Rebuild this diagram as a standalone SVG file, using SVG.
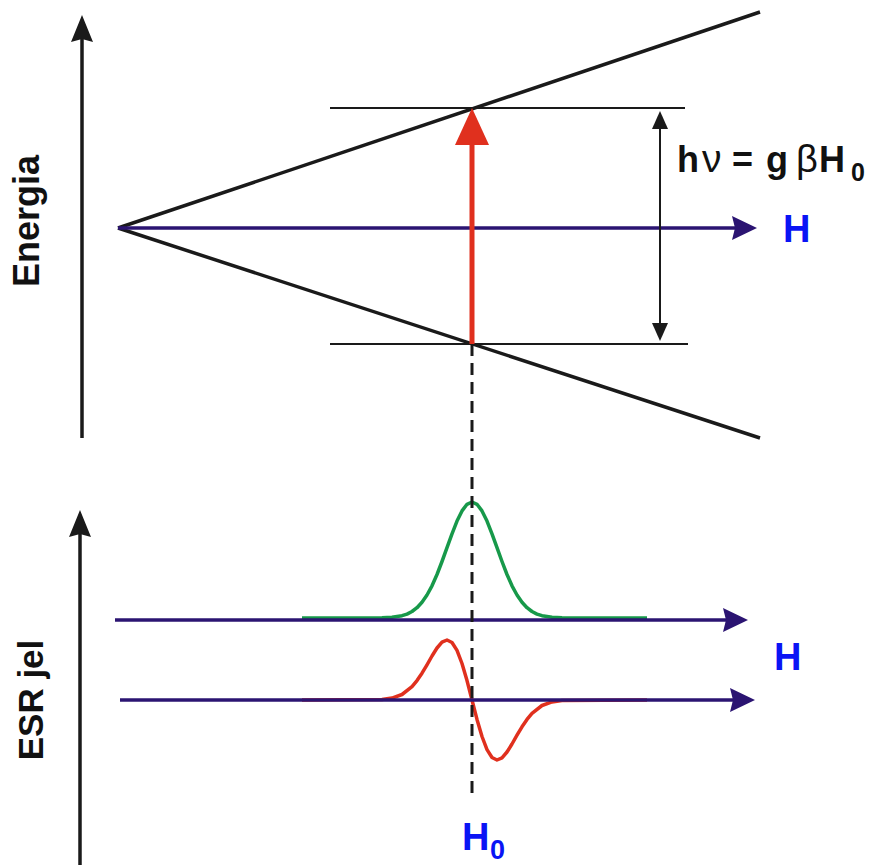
<svg xmlns="http://www.w3.org/2000/svg" width="876" height="865" viewBox="0 0 876 865">
<defs>
<style>
.blk{stroke:#1a1a1a;fill:none}
.blue{stroke:#2b1472;stroke-width:3.5;fill:none}
.lbl{font-family:"Liberation Sans",Arial,sans-serif;font-weight:bold}
.bluetxt{fill:#0a14f5}
</style>
<marker id="ahBlue" markerUnits="userSpaceOnUse" markerWidth="30" markerHeight="30" viewBox="-3 -15 30 30" refX="0" refY="0" orient="auto"><path d="M-3,-12 L22,0 L-3,12 L0,0 Z" fill="#2b1472"/></marker>
<marker id="ahBlack" markerUnits="userSpaceOnUse" markerWidth="30" markerHeight="30" viewBox="-3 -15 30 30" refX="0" refY="0" orient="auto"><path d="M-3,-11 L24,0 L-3,11 L0,0 Z" fill="#1a1a1a"/></marker>
<marker id="ahRed" markerUnits="userSpaceOnUse" markerWidth="40" markerHeight="40" viewBox="0 -20 40 40" refX="0" refY="0" orient="auto"><path d="M0,-17 L37,0 L0,17 Z" fill="#e0301e"/></marker>
<marker id="ahDbl" markerUnits="userSpaceOnUse" markerWidth="20" markerHeight="20" viewBox="0 -10 20 20" refX="0" refY="0" orient="auto-start-reverse"><path d="M0,-8 L18,0 L0,8 Z" fill="#1a1a1a"/></marker>
</defs>

<g id="energy-levels">
<line class="blk" x1="118" y1="228" x2="760" y2="12" stroke-width="3.5"/>
<line class="blk" x1="118" y1="228" x2="760" y2="438" stroke-width="3.5"/>
<line class="blk" x1="330" y1="108" x2="685" y2="108" stroke-width="2"/>
<line class="blk" x1="330" y1="344" x2="688" y2="344" stroke-width="2"/>
</g>

<g id="spectra">
<polyline id="absorption" fill="none" stroke="#17994a" stroke-width="3.5" stroke-linejoin="round" points="302,618 382,617.8 392,617.3 402,615.7 407,614.1 412,611.5 417,607.7 422,602.3 427,595 432,585.8 437,574.5 442,561.5 447,547.6 452,533.8 457,521.1 462,510.9 467,504.3 472,502 477,504.3 482,510.9 487,521.1 492,533.8 497,547.6 502,561.5 507,574.5 512,585.8 517,595 522,602.3 527,607.7 532,611.5 537,614.1 542,615.7 552,617.3 562,617.8 647,618"/>
<polyline id="derivative" fill="none" stroke="#e0301e" stroke-width="3.5" stroke-linejoin="round" points="302,700 382,699.5 392,698.1 402,694.5 412,686.7 417,680.6 422,673.2 427,664.8 432,656 437,648 442,642.2 447,640 452,642.5 457,650.4 462,663.5 467,680.6 472,700 477,719.4 482,736.5 487,749.6 492,757.5 497,760 502,757.8 507,752 512,744 517,735.2 522,726.8 527,719.4 532,713.3 542,705.5 552,701.9 562,700.5 647,700"/>
</g>

<g id="connectors">
<line class="blk" x1="82" y1="438" x2="82" y2="39" stroke-width="3.5" marker-end="url(#ahBlack)"/>
<line class="blk" x1="80" y1="865" x2="80" y2="534" stroke-width="3.5" marker-end="url(#ahBlack)"/>
<line class="blue" x1="118" y1="228" x2="735" y2="228" marker-end="url(#ahBlue)"/>
<line class="blue" x1="115" y1="620" x2="726" y2="620" marker-end="url(#ahBlue)"/>
<line class="blue" x1="120" y1="700" x2="733" y2="700" marker-end="url(#ahBlue)"/>
<line x1="472" y1="344" x2="472" y2="145" stroke="#e0301e" stroke-width="5" marker-end="url(#ahRed)"/>
<line class="blk" x1="660" y1="129" x2="660" y2="323" stroke-width="2" marker-start="url(#ahDbl)" marker-end="url(#ahDbl)"/>
<line class="blk" x1="472" y1="344" x2="472" y2="793" stroke-width="3" stroke-dasharray="12 7"/>
</g>

<g id="labels">
<text class="lbl" font-size="36" transform="translate(39,221) rotate(-90)" text-anchor="middle" fill="#111">Energia</text>
<text class="lbl" font-size="35" transform="translate(43,700) rotate(-90)" text-anchor="middle" fill="#111">ESR jel</text>
<text class="lbl" font-size="36" fill="#111" y="172"><tspan x="677">h</tspan><tspan x="702" font-weight="normal" font-size="39">ν</tspan><tspan x="732">=</tspan><tspan x="766">g</tspan><tspan x="796" font-weight="normal" font-size="38">β</tspan><tspan x="819">H</tspan><tspan x="851" y="181" font-size="25">0</tspan></text>
<text class="lbl bluetxt" font-size="38" x="783" y="242">H</text>
<text class="lbl bluetxt" font-size="38" x="774" y="670">H</text>
<text class="lbl bluetxt" font-size="38" x="462" y="850">H<tspan x="490" y="859" font-size="27">0</tspan></text>
</g>
</svg>
